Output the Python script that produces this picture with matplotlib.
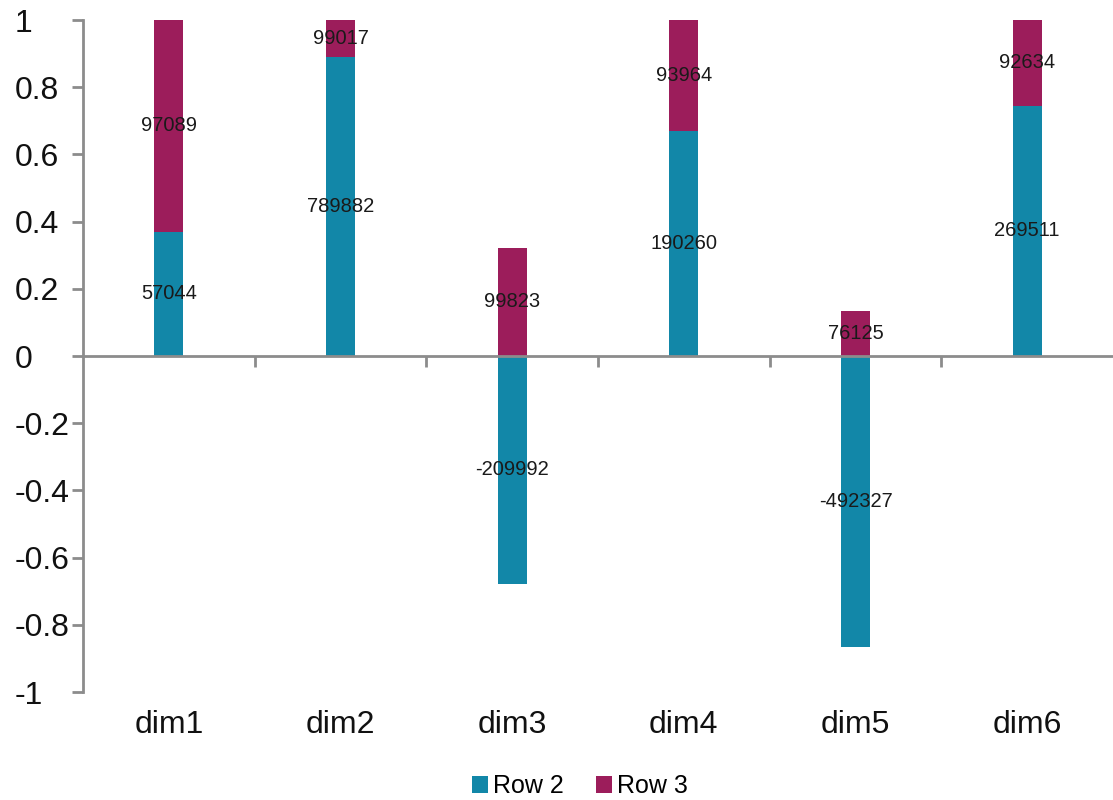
import numpy as np
import matplotlib
matplotlib.use('Agg')
import matplotlib.pyplot as plt
import matplotlib.transforms as mtransforms

# data
categories = ['dim1', 'dim2', 'dim3', 'dim4', 'dim5', 'dim6']
row2 = [57044, 789882, -209992, 190260, -492327, 269511]
row3 = [97089, 99017, 99823, 93964, 76125, 92634]

plt.rcParams['font.family'] = ['Liberation Sans', 'DejaVu Sans']

def main():
    r2 = np.array(row2, dtype=float)
    r3 = np.array(row3, dtype=float)
    tot = np.abs(r2) + np.abs(r3)
    p2 = r2 / tot
    p3 = r3 / tot
    # positive parts stack upward from 0, negative parts stack downward
    base3 = np.where(p2 > 0, p2, 0.0)

    fig = plt.figure(figsize=(11.13, 8), dpi=100)
    ax = fig.add_axes([83/1113, 1-692/800, 1-83/1113, (692-20)/800])
    x = np.arange(len(categories))
    c2 = '#1287a8'
    c3 = '#9c1d5b'
    b2 = ax.bar(x, p2, width=0.17, color=c2, label='Row 2')
    b3 = ax.bar(x, p3, width=0.17, bottom=base3, color=c3, label='Row 3')
    ax.bar_label(b2, labels=[str(v) for v in row2], label_type='center', fontsize=14.5, color='#1a1a1a')
    ax.bar_label(b3, labels=[str(v) for v in row3], label_type='center', fontsize=14.5, color='#1a1a1a')

    ax.set_xlim(-0.5, len(categories) - 0.5)
    ax.set_ylim(-1, 1)
    gray = '#8c8c8c'
    for s in ['top', 'right']:
        ax.spines[s].set_visible(False)
    ax.spines['left'].set_color(gray)
    ax.spines['left'].set_linewidth(2)
    ax.spines['bottom'].set_position(('data', 0))
    ax.spines['bottom'].set_color(gray)
    ax.spines['bottom'].set_linewidth(2)

    ax.set_yticks(np.linspace(-1, 1, 11))
    ax.set_yticklabels(['%g' % round(v, 1) for v in np.linspace(-1, 1, 11)])
    ax.tick_params(axis='y', direction='out', length=8, width=2, color=gray,
                   labelsize=23, labelcolor='#111111', pad=41)
    for lab in ax.get_yticklabels():
        lab.set_horizontalalignment('left')

    ax.set_xticks(np.arange(0.5, len(categories) - 0.5, 1.0))
    ax.set_xticklabels([])
    ax.tick_params(axis='x', direction='out', length=8, width=2, color=gray)

    trans = mtransforms.blended_transform_factory(ax.transData, ax.transAxes)
    for i, c in enumerate(categories):
        ax.text(i, -0.049, c, transform=trans, ha='center', va='center',
                fontsize=23, color='#111111')

    fig.legend(handles=[b2, b3], loc='center', bbox_to_anchor=(0.521, 0.017),
               ncol=2, frameon=False, fontsize=18, handlelength=0.65,
               handleheight=0.65, handletextpad=0.2, columnspacing=1.3)

    fig.savefig('out.png', dpi=100)

if __name__ == '__main__':
    main()
